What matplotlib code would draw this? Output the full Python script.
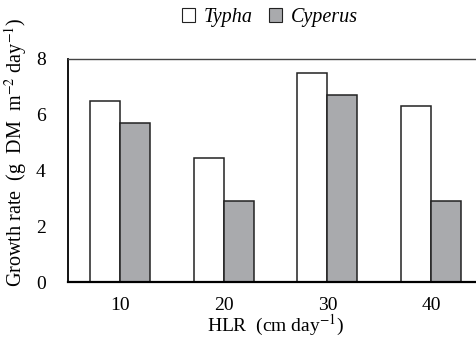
import matplotlib.pyplot as plt
import numpy as np

hlr = ["10", "20", "30", "40"]
typha = [6.5, 4.45, 7.5, 6.3]
cyperus = [5.7, 2.9, 6.7, 2.9]

plt.rcParams['font.family'] = ['Liberation Serif', 'DejaVu Serif']
plt.rcParams['mathtext.fontset'] = 'stix'

fs = 14.5
fig = plt.figure(figsize=(4.77, 3.42), dpi=100)
ax = fig.add_axes([0.1426, 0.1754, 1.0126 - 0.1426, 0.8275 - 0.1754])

x = np.arange(len(hlr))
w = 0.29
ax.bar(x - w / 2, typha, w, color='white', edgecolor='#222222', linewidth=1.1, label='Typha')
ax.bar(x + w / 2, cyperus, w, color='#a9aaad', edgecolor='#222222', linewidth=1.1, label='Cyperus')

ax.set_xlim(-0.5, 3.5)
ax.set_ylim(0, 8)
ax.set_yticks([0, 2, 4, 6, 8])
ax.set_xticks(x)
ax.set_xticklabels(hlr)
ax.tick_params(length=0, labelsize=14)
ax.tick_params(axis='y', pad=16)
ax.tick_params(axis='x', pad=11)
ax.spines['right'].set_visible(False)
ax.spines['top'].set_color('#444444')
ax.spines['top'].set_linewidth(1.0)
ax.spines['left'].set_linewidth(1.3)
ax.spines['bottom'].set_linewidth(1.6)

ax.set_xlabel('HLR  (cm day$^{-1}$)', fontsize=14, labelpad=-1)
ax.set_ylabel('Growth rate  (g  DM  m$^{-2}$ day$^{-1}$)', fontsize=fs)
ax.yaxis.set_label_coords(-0.093, 0.58)

leg = ax.legend(loc='center', bbox_to_anchor=(0.487, 1.185), ncol=2,
                frameon=False, prop={'style': 'italic', 'size': fs},
                handlelength=0.65, handleheight=0.65, handletextpad=0.45, columnspacing=0.8)
for h in leg.legend_handles:
    h.set_linewidth(0.8)

fig.savefig('out.png', dpi=100)
